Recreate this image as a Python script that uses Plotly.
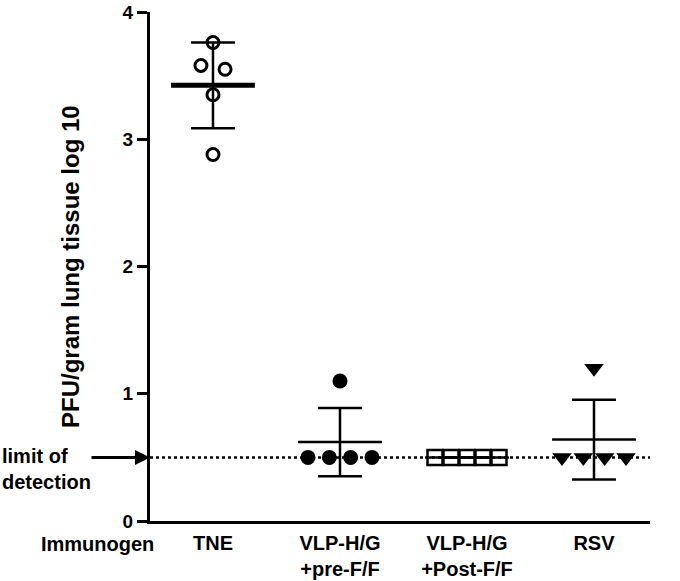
import numpy as np
import plotly.graph_objects as go

# ---- data ----
categories = ["TNE", "VLP-H/G<br>+pre-F/F", "VLP-H/G<br>+Post-F/F", "RSV"]
tne = [3.76, 3.55, 3.58, 3.35, 2.88]
pre_f = [1.10, 0.50, 0.50, 0.50, 0.50]
post_f = [0.50, 0.50, 0.50, 0.50, 0.50]
rsv = [1.20, 0.50, 0.50, 0.50, 0.50]
limit_of_detection = 0.5
y_ticks = [0, 1, 2, 3, 4]

groups = [tne, pre_f, post_f, rsv]

# ---- styles ----
FONT = "Liberation Sans, Arial, sans-serif"
marker_styles = [
    dict(symbol="circle-open", size=12, color="black", line=dict(width=3, color="black")),
    dict(symbol="circle", size=15, color="black", line=dict(width=0)),
    dict(symbol="square-open", size=15, color="black", line=dict(width=2.5, color="black")),
    dict(symbol="triangle-down", size=17, color="black", line=dict(width=0)),
]
row_spacing = [0.19, 0.168, 0.126, 0.168]   # horizontal spacing of tied points (x units)
mean_widths = [5, 2.5, 2.5, 2.5]
MEAN_HALF = 0.33
CAP_HALF = 0.173
Y_PER_UNIT_PX = 128.5
MARKER_PX = 15

x_range = [-0.496, 3.441]


def swarm_offsets(values, spacing):
    """Spread points whose y values collide (in pixels) into centred rows."""
    vals = np.asarray(values, dtype=float)
    order = np.argsort(-vals, kind="stable")
    offsets = np.zeros(len(vals))
    rows = []
    for idx in order:
        if rows and abs(vals[rows[-1][-1]] - vals[idx]) * Y_PER_UNIT_PX < MARKER_PX * 0.9:
            rows[-1].append(idx)
        else:
            rows.append([idx])
    for row in rows:
        n = len(row)
        for k, idx in enumerate(row):
            offsets[idx] = (k - (n - 1) / 2) * spacing
    return offsets


fig = go.Figure()

# limit of detection dotted line
fig.add_trace(go.Scatter(
    x=x_range, y=[limit_of_detection, limit_of_detection], mode="lines",
    line=dict(color="black", width=2.5, dash="dot"), hoverinfo="skip", showlegend=False))

for i, vals in enumerate(groups):
    arr = np.asarray(vals, dtype=float)
    mean = arr.mean()
    sd = arr.std(ddof=1)
    offs = swarm_offsets(vals, row_spacing[i])
    # points
    fig.add_trace(go.Scatter(
        x=i + offs, y=arr, mode="markers", marker=marker_styles[i], showlegend=False))
    # SD vertical line + caps
    fig.add_trace(go.Scatter(
        x=[i, i, None, i - CAP_HALF, i + CAP_HALF, None, i - CAP_HALF, i + CAP_HALF],
        y=[mean - sd, mean + sd, None, mean + sd, mean + sd, None, mean - sd, mean - sd],
        mode="lines", line=dict(color="black", width=2.5), showlegend=False))
    # mean bar
    fig.add_trace(go.Scatter(
        x=[i - MEAN_HALF, i + MEAN_HALF], y=[mean, mean], mode="lines",
        line=dict(color="black", width=mean_widths[i]), showlegend=False))

fig.update_layout(
    width=680, height=581,
    margin=dict(l=150, r=30, t=12, b=60),
    plot_bgcolor="white", paper_bgcolor="white",
    font=dict(family=FONT, color="black"),
    showlegend=False,
    xaxis=dict(
        range=x_range, showgrid=False, zeroline=False, automargin=False,
        showline=True, linecolor="black", linewidth=3,
        tickvals=list(range(len(categories))), ticktext=categories,
        ticks="", ticklabelstandoff=2,
        tickfont=dict(family=FONT, size=20, color="black", weight="bold"),
    ),
    yaxis=dict(
        range=[0, 4], showgrid=False, zeroline=False, automargin=False,
        showline=True, linecolor="black", linewidth=3,
        tickvals=y_ticks, ticks="outside", ticklen=10, tickwidth=2.5, tickcolor="black",
        ticklabeloverflow="allow",
        tickfont=dict(family=FONT, size=19, color="black", weight="bold"),
    ),
)

# y-axis title
fig.add_annotation(
    text="PFU/gram lung tissue log 10", xref="paper", yref="paper",
    x=-0.19, y=0.5, textangle=-90, showarrow=False,
    font=dict(family=FONT, size=24, color="black", weight="bold"))

# "Immunogen" row label
fig.add_annotation(
    text="Immunogen", xref="paper", yref="paper", x=0.012, y=-0.045,
    xanchor="right", yanchor="middle", showarrow=False,
    font=dict(family=FONT, size=20, color="black", weight="bold"))

# limit of detection label and arrow
fig.add_annotation(
    text="limit of<br>detection", xref="paper", yref="y", x=-0.3, y=limit_of_detection,
    xanchor="left", yanchor="top", yshift=14, align="left", showarrow=False,
    font=dict(family=FONT, size=20, color="black", weight="bold"))
fig.add_annotation(
    x=x_range[0], y=limit_of_detection, xref="x", yref="y", text="",
    showarrow=True, arrowhead=2, arrowsize=1, arrowwidth=3, arrowcolor="black",
    ax=-60, ay=0, standoff=0)

fig.write_html("out.html", config={"displayModeBar": False},
               post_script="document.body.style.margin='0';")
